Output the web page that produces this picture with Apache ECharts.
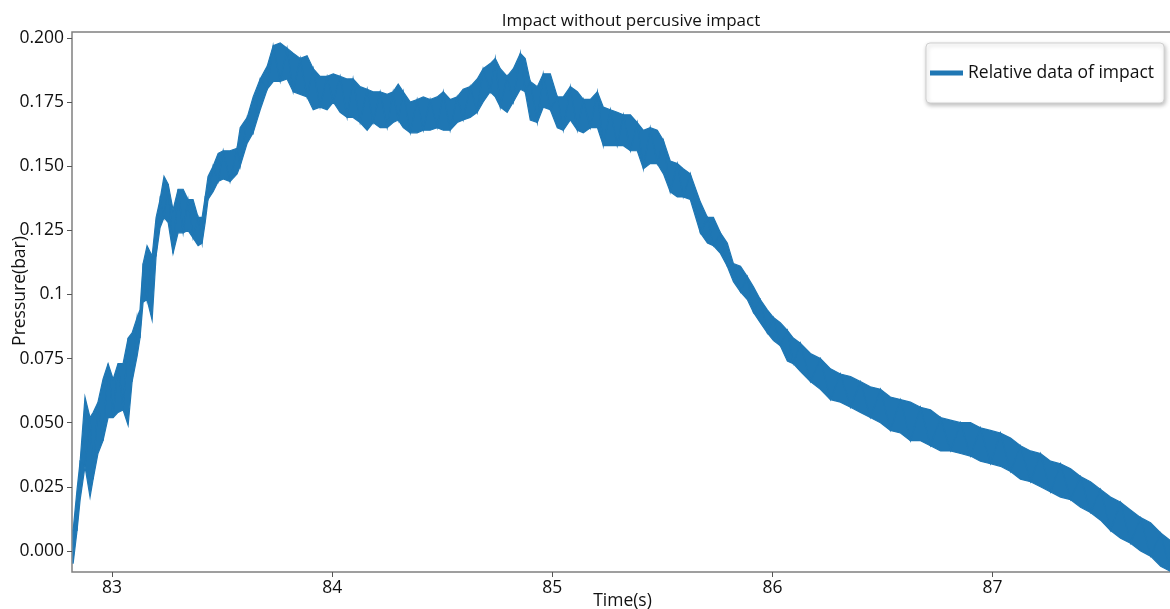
<!DOCTYPE html>
<html>
<head>
<meta charset="utf-8">
<script src="https://cdn.jsdelivr.net/npm/echarts@6/dist/echarts.min.js"></script>
<style>
html,body{margin:0;padding:0;background:#fff;}
#chart{width:1170px;height:609px;}
</style>
</head>
<body>
<div id="chart"></div>
<script>
// Time (s) sample positions
const time = [
82.823,82.841,82.855,82.877,82.900,82.914,82.936,82.959,82.982,83.005,
83.027,83.050,83.073,83.091,83.114,83.127,83.141,83.159,83.182,83.200,
83.218,83.236,83.255,83.277,83.300,83.323,83.345,83.368,83.391,83.409,
83.423,83.436,83.459,83.482,83.505,83.536,83.568,83.582,83.614,83.641,
83.673,83.705,83.732,83.764,83.795,83.823,83.855,83.886,83.914,83.945,
83.977,84.005,84.036,84.068,84.095,84.127,84.159,84.186,84.218,84.250,
84.277,84.300,84.323,84.355,84.386,84.414,84.445,84.477,84.505,84.536,
84.568,84.595,84.627,84.659,84.686,84.718,84.741,84.764,84.795,84.823,
84.855,84.877,84.900,84.932,84.959,84.991,85.023,85.050,85.082,85.114,
85.141,85.173,85.205,85.232,85.264,85.295,85.323,85.355,85.386,85.414,
85.445,85.477,85.505,85.536,85.568,85.595,85.627,85.673,85.705,85.732,
85.764,85.795,85.823,85.855,85.886,85.914,85.945,85.977,86.005,86.036,
86.068,86.095,86.127,86.173,86.218,86.264,86.309,86.355,86.400,86.445,
86.491,86.536,86.582,86.627,86.673,86.718,86.764,86.809,86.855,86.900,
86.945,86.991,87.036,87.082,87.127,87.173,87.218,87.264,87.309,87.355,
87.400,87.445,87.491,87.536,87.582,87.627,87.673,87.718,87.764,87.809
];
// Upper edge of the noisy pressure trace (bar)
const upper = [
0.008,0.024,0.035,0.060,0.052,0.054,0.058,0.067,0.073,0.067,
0.073,0.073,0.083,0.085,0.091,0.094,0.112,0.119,0.115,0.130,
0.137,0.146,0.143,0.133,0.141,0.141,0.137,0.137,0.130,0.130,
0.138,0.146,0.150,0.155,0.156,0.156,0.157,0.165,0.169,0.177,
0.184,0.189,0.197,0.198,0.196,0.194,0.192,0.193,0.188,0.185,
0.185,0.186,0.185,0.184,0.184,0.181,0.180,0.179,0.179,0.178,
0.179,0.182,0.179,0.175,0.176,0.177,0.176,0.177,0.179,0.176,
0.177,0.180,0.181,0.184,0.188,0.190,0.192,0.188,0.185,0.188,
0.194,0.192,0.183,0.181,0.186,0.186,0.177,0.177,0.181,0.179,
0.176,0.176,0.179,0.173,0.172,0.171,0.170,0.170,0.167,0.164,
0.165,0.164,0.160,0.152,0.151,0.149,0.147,0.136,0.130,0.130,
0.124,0.120,0.112,0.111,0.107,0.103,0.098,0.094,0.091,0.089,
0.086,0.083,0.081,0.077,0.075,0.071,0.069,0.068,0.066,0.064,
0.063,0.060,0.059,0.058,0.056,0.055,0.052,0.051,0.050,0.050,
0.048,0.047,0.046,0.044,0.041,0.039,0.038,0.035,0.034,0.032,
0.029,0.027,0.024,0.021,0.019,0.016,0.013,0.011,0.007,0.004
];
// Lower edge of the noisy pressure trace (bar)
const lower = [
-0.005,0.008,0.020,0.033,0.021,0.028,0.038,0.043,0.052,0.052,
0.054,0.055,0.049,0.066,0.076,0.083,0.097,0.098,0.090,0.115,
0.126,0.130,0.128,0.116,0.124,0.124,0.125,0.122,0.119,0.120,
0.128,0.137,0.140,0.144,0.145,0.144,0.147,0.150,0.159,0.163,
0.172,0.180,0.183,0.183,0.184,0.179,0.178,0.177,0.172,0.173,
0.172,0.175,0.171,0.169,0.169,0.167,0.164,0.167,0.165,0.165,
0.167,0.168,0.165,0.163,0.163,0.164,0.164,0.165,0.164,0.164,
0.167,0.168,0.169,0.171,0.175,0.179,0.177,0.173,0.171,0.175,
0.180,0.179,0.168,0.167,0.173,0.172,0.165,0.164,0.168,0.164,
0.163,0.165,0.165,0.158,0.158,0.158,0.158,0.156,0.156,0.149,
0.151,0.151,0.147,0.140,0.138,0.138,0.137,0.124,0.120,0.119,
0.116,0.111,0.105,0.101,0.098,0.093,0.089,0.085,0.082,0.080,
0.074,0.073,0.070,0.066,0.063,0.059,0.058,0.056,0.054,0.052,
0.050,0.047,0.046,0.043,0.043,0.041,0.039,0.039,0.038,0.037,
0.035,0.034,0.033,0.031,0.028,0.027,0.025,0.023,0.021,0.020,
0.017,0.015,0.012,0.008,0.005,0.003,0.000,-0.002,-0.006,-0.008
];
const xTicks = [83, 84, 85, 86, 87];
const xTickLabels = ['83', '84', '85', '86', '87'];
const yTicks = [0, 0.025, 0.05, 0.075, 0.1, 0.125, 0.15, 0.175, 0.2];
const yTickLabels = ['0.000', '0.025', '0.050', '0.075', '0.1', '0.125', '0.150', '0.175', '0.200'];
const seriesName = 'Relative data of impact';
const titleText = 'Impact without percusive impact';

const lineColor = '#1f77b4';
const font = '"Open Sans", "Noto Sans", sans-serif';
const fs = 17.5;

function labelFor(ticks, labels, v) {
  for (let i = 0; i < ticks.length; i++) {
    if (Math.abs(ticks[i] - v) < 1e-6) return labels[i];
  }
  return '';
}

const chart = echarts.init(document.getElementById('chart'), null, {renderer: 'canvas'});
chart.setOption({
  animation: false,
  backgroundColor: '#fff',
  title: {
    text: titleText,
    left: 626, top: 8, textAlign: 'center',
    textStyle: {fontFamily: font, fontSize: 17, fontWeight: 'normal', color: '#111'}
  },
  legend: {
    data: [{name: seriesName, icon: 'rect'}],
    left: 926, top: 43,
    padding: [21, 10, 21, 4],
    itemWidth: 33, itemHeight: 5,
    backgroundColor: '#fff',
    borderColor: '#d0d0d0', borderWidth: 1, borderRadius: 4,
    shadowBlur: 4, shadowColor: 'rgba(0,0,0,0.25)', shadowOffsetX: 1, shadowOffsetY: 2,
    textStyle: {fontFamily: font, fontSize: fs, color: '#111'}
  },
  grid: {
    left: 72, right: -3, top: 32, bottom: 37,
    outerBoundsMode: 'none',
    containLabel: false,
    show: true, borderColor: '#808080', borderWidth: 1.5, backgroundColor: 'transparent'
  },
  xAxis: {
    type: 'value', min: 82.818, max: 87.82,
    name: 'Time(s)', nameLocation: 'middle', nameGap: 20, nameMoveOverlap: false,
    nameTextStyle: {fontFamily: font, fontSize: fs, color: '#111'},
    axisLine: {show: false, onZero: false},
    splitLine: {show: false},
    axisTick: {show: true, customValues: xTicks, length: 5, lineStyle: {color: '#555', width: 1}},
    axisLabel: {customValues: xTicks, margin: 7, fontFamily: font, fontSize: fs, color: '#111',
      formatter: v => labelFor(xTicks, xTickLabels, v)}
  },
  yAxis: {
    type: 'value', min: -0.0082, max: 0.2023,
    name: 'Pressure(bar)', nameLocation: 'middle', nameGap: 43, nameRotate: 90, nameMoveOverlap: false,
    nameTextStyle: {fontFamily: font, fontSize: fs, color: '#111', padding: [0, 0, 0, 22]},
    axisLine: {show: false, onZero: false},
    splitLine: {show: false},
    axisTick: {show: true, customValues: yTicks, length: 5, lineStyle: {color: '#555', width: 1}},
    axisLabel: {customValues: yTicks, margin: 8, fontFamily: font, fontSize: fs, color: '#111',
      formatter: v => labelFor(yTicks, yTickLabels, v)}
  },
  series: [{
    name: seriesName,
    type: 'custom',
    clip: true,
    itemStyle: {color: lineColor},
    encode: {x: 0, y: 1},
    data: [[time[0], upper[0]]],
    renderItem: function (params, api) {
      const pts = [];
      for (let i = 0; i < time.length; i++) pts.push(api.coord([time[i], upper[i]]));
      for (let i = time.length - 1; i >= 0; i--) pts.push(api.coord([time[i], lower[i]]));
      const zig = [];
      for (let i = 0; i < time.length; i++) {
        zig.push(api.coord([time[i], (i % 2 === 0) ? upper[i] : lower[i]]));
      }
      return {
        type: 'group',
        children: [
          {type: 'polygon', shape: {points: pts}, style: {fill: lineColor, stroke: lineColor, lineWidth: 1.2}},
          {type: 'polyline', shape: {points: zig}, style: {fill: null, stroke: lineColor, lineWidth: 1.2}}
        ]
      };
    }
  }]
});
</script>
</body>
</html>
